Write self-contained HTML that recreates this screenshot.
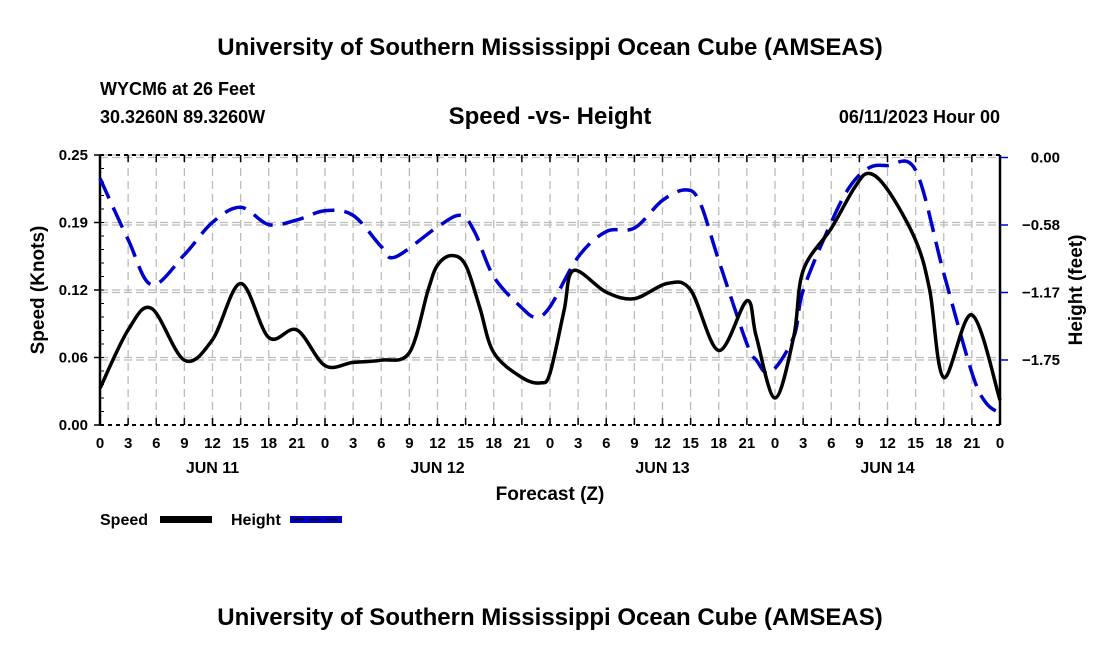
<!DOCTYPE html>
<html><head><meta charset="utf-8">
<style>
body{margin:0;background:#fff;}
svg{display:block;font-family:"Liberation Sans",Arial,sans-serif;font-weight:bold;}
</style></head><body>
<svg id="c" width="1100" height="650" viewBox="0 0 1100 650">
<text x="550" y="55" text-anchor="middle" font-size="24">University of Southern Mississippi Ocean Cube (AMSEAS)</text>
<text x="100" y="95" font-size="18">WYCM6 at 26 Feet</text>
<text x="100" y="123" font-size="18">30.3260N  89.3260W</text>
<text x="550" y="124" text-anchor="middle" font-size="24">Speed -vs- Height</text>
<text x="1000" y="123" text-anchor="end" font-size="18">06/11/2023 Hour 00</text>
<text x="550" y="625" text-anchor="middle" font-size="24">University of Southern Mississippi Ocean Cube (AMSEAS)</text>
<g id="grid"></g>
<g id="axes"></g>
<g id="series"></g>
<text x="550" y="500" text-anchor="middle" font-size="19">Forecast (Z)</text>
<text transform="translate(44,290) rotate(-90)" text-anchor="middle" font-size="19">Speed (Knots)</text>
<text transform="translate(1082,290) rotate(-90)" text-anchor="middle" font-size="19">Height (feet)</text>
<g>
<text x="100" y="525" font-size="16">Speed</text>
<rect x="160" y="516" width="52" height="7" fill="#000"/>
<text x="231" y="525" font-size="16">Height</text>
<rect x="290" y="516" width="52" height="7" fill="#00c"/>
<line x1="292" y1="519.5" x2="342" y2="519.5" stroke="#000" stroke-width="1.5" stroke-dasharray="12,5"/>
</g>
</svg>
<script>
const hours=[0,3,5.5,9,12,15,18,21,24,27,30,33,35,36,37.5,39,40.5,42,45,47,48,49.5,50.5,54,57,60.5,63,66,69,70,72,74,75,78,80.5,82,84,87,88.5,90,93,96];
const speed=[0.034,0.088,0.108,0.060,0.079,0.131,0.081,0.088,0.055,0.058,0.060,0.067,0.125,0.148,0.157,0.148,0.109,0.067,0.044,0.039,0.048,0.106,0.143,0.123,0.117,0.131,0.125,0.069,0.115,0.082,0.025,0.082,0.143,0.182,0.220,0.233,0.218,0.171,0.125,0.044,0.102,0.023];
const hHours=[0,3,5.5,9,12,15,18,21,24,27,30,31.5,36,38.5,40,42,45,46.5,48,51,54,57,60,62.5,64,66,69,70,71.5,74,75,78,80,82,84,87,90,93,94.5,96];
const height=[-0.18,-0.71,-1.10,-0.84,-0.56,-0.43,-0.58,-0.54,-0.46,-0.50,-0.77,-0.86,-0.60,-0.50,-0.65,-1.03,-1.30,-1.38,-1.29,-0.86,-0.64,-0.61,-0.37,-0.28,-0.39,-0.89,-1.61,-1.75,-1.86,-1.55,-1.15,-0.56,-0.25,-0.09,-0.07,-0.11,-1.00,-1.86,-2.12,-2.21];
const leftTicks=["0.00","0.06","0.12","0.19","0.25"];
const leftTickVals=[0,0.0625,0.125,0.1875,0.25];
const rightTicks=["0.00","\u22120.58","\u22121.17","\u22121.75"];
const rightTickVals=[0,-0.5833,-1.1667,-1.75];
const xTickLabels=["0","3","6","9","12","15","18","21"];
const dayLabels=["JUN 11","JUN 12","JUN 13","JUN 14"];

const L=100,R=1000,T=155,B=425;
const x=h=>L+(R-L)*h/96;
const yS=v=>B-(B-T)*v/0.25;
const yH=v=>157.5-v*115.7;
const NS="http://www.w3.org/2000/svg";
function mk(tag,attrs,parent){const e=document.createElementNS(NS,tag);for(const k in attrs)e.setAttribute(k,attrs[k]);parent.appendChild(e);return e;}
const grid=document.getElementById('grid'),axes=document.getElementById('axes'),ser=document.getElementById('series');
for(let h=3;h<96;h+=3){const g=mk('line',{x1:x(h),x2:x(h),y1:T,y2:B,stroke:'#bbb','stroke-width':1.3,'stroke-dasharray':'8,5'},grid);

}
leftTickVals.forEach((v,i)=>{if(i==0)return;const g=mk('line',{x1:L,x2:R,y1:yS(v),y2:yS(v),stroke:'#bbb','stroke-width':1.3,'stroke-dasharray':'8,4'},grid);

});
rightTickVals.forEach((v,i)=>{const g=mk('line',{x1:L,x2:R,y1:yH(v),y2:yH(v),stroke:'#bbb','stroke-width':1.3,'stroke-dasharray':'8,4'},grid);

});
[[L,T,L,B],[R,T,R,B]].forEach(a=>{const e=mk('line',{x1:a[0],y1:a[1],x2:a[2],y2:a[3],stroke:'#000','stroke-width':2.5},axes);

});
[T,B].forEach(yy=>{const e=mk('line',{x1:L,y1:yy,x2:R,y2:yy,stroke:'#000','stroke-width':2,'stroke-dasharray':'4,4'},axes);

});
for(let h=0;h<=96;h+=3){
 [B,T].forEach(yy=>{const e=mk('line',{x1:x(h),x2:x(h),y1:yy,y2:yy==B?yy-7:yy+7,stroke:'#000','stroke-width':1.5},axes);
 
 });
 const t=mk('text',{x:x(h),y:448,'text-anchor':'middle','font-size':15},axes);t.textContent=xTickLabels[(h/3)%8];
 
 
}
dayLabels.forEach((d,i)=>{const t=mk('text',{x:x(12+24*i),y:473,'text-anchor':'middle','font-size':16},axes);t.textContent=d;

});
leftTickVals.forEach((v,i)=>{mk('line',{x1:L-6,x2:L,y1:yS(v),y2:yS(v),stroke:'#000','stroke-width':1.5},axes);
const t=mk('text',{x:L-12,y:yS(v)+5,'text-anchor':'end','font-size':15},axes);t.textContent=leftTicks[i];

});
for(let v=0;v<=0.25;v+=0.0125){mk('line',{x1:L,x2:L+4,y1:yS(v),y2:yS(v),stroke:'#000','stroke-width':1},axes);}
rightTickVals.forEach((v,i)=>{mk('line',{x1:R,x2:R+8,y1:yH(v),y2:yH(v),stroke:'#00c','stroke-width':1.5},axes);
const t=mk('text',{x:1060,y:yH(v)+5,'text-anchor':'end','font-size':15},axes);t.textContent=rightTicks[i];

});
function path(xs,ys){const p=xs.map((h,i)=>[h,ys[i]]);let d='M'+p[0][0]+','+p[0][1];
for(let i=0;i<p.length-1;i++){const p0=p[i-1]||p[i],p1=p[i],p2=p[i+1],p3=p[i+2]||p2;
d+=' C'+(p1[0]+(p2[0]-p0[0])/6)+','+(p1[1]+(p2[1]-p0[1])/6)+' '+(p2[0]-(p3[0]-p1[0])/6)+','+(p2[1]-(p3[1]-p1[1])/6)+' '+p2[0]+','+p2[1];}
return d;}
const hp=mk('path',{d:path(hHours.map(x),height.map(yH)),fill:'none',stroke:'#00c','stroke-width':3.5,'stroke-dasharray':'22,10'},ser);


const sp=mk('path',{d:path(hours.map(x),speed.map(yS)),fill:'none',stroke:'#000','stroke-width':3.5},ser);


</script>
</body></html>
